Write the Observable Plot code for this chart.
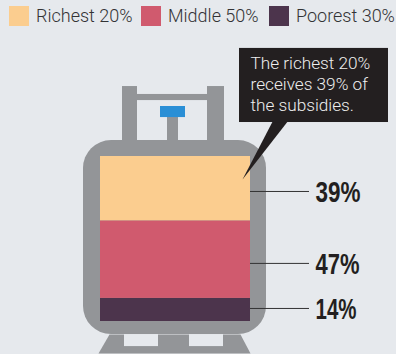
<!DOCTYPE html>
<html>
<head>
<meta charset="utf-8">
<script src="https://cdn.jsdelivr.net/npm/d3@7"></script>
<script src="https://cdn.jsdelivr.net/npm/@observablehq/plot@0.6"></script>
<style>
  html, body { margin: 0; padding: 0; background: #e6e9ed; width: 396px; height: 354px; overflow: hidden; }
  #legend { position: relative; height: 32px; font: 300 18px "Roboto", sans-serif; color: #333335; }
  #legend i { position: absolute; top: 6px; width: 20px; height: 20px; }
  #legend span { position: absolute; top: 6px; line-height: 20px; white-space: nowrap; }
  svg { display: block; }
</style>
</head>
<body>
<div id="legend"></div>
<div id="chart"></div>
<script>
// Income groups and their share of the subsidies, bottom of the tank first.
const groups = ["Poorest 30%", "Middle 50%", "Richest 20%"];
const shares = [14, 47, 39];
const labels = ["14%", "47%", "39%"];
const colors = ["#4c344c", "#d05a6e", "#fbcd8f"];
const calloutLines = ["The richest 20%", "receives 39% of", "the subsidies."];

// Layout, with y in percent of the tank's contents so that the cylinder
// sits on the same scale as the fill.
const fillX = [100, 250];
const labelLevels = [7.9, 35.2, 78.8];
const labelWidths = [41, 44, 45];
const leaderEnd = 309;
const labelX = 315;
const steel = "#939598";
const ink = "#231f20";

const steelParts = [
  {x1: 122, x2: 137, y1: 100, y2: 142.4},
  {x1: 207, x2: 224, y1: 100, y2: 142.4},
  {x1: 137, x2: 208, y1: 133.9, y2: 137.6},
  {x1: 167, x2: 178, y1: 100, y2: 124}
];
const tankBody = [{x1: 83, x2: 266, y1: -7.9, y2: 109.7}];
const valve = [{x1: 160, x2: 185, y1: 123.6, y2: 130.3}];
const footing = [[109, -7.9], [240, -7.9], [250, -19.4], [98, -19.4], [109, -7.9]];
const footHoles = [
  {x1: 124, x2: 158, y1: -15.2, y2: -7.9},
  {x1: 189, x2: 223, y1: -15.2, y2: -7.9}
];
const calloutBox = [{x1: 239, x2: 388, y1: 120.6, y2: 165.5}];
const calloutTail = [[272, 121], [287, 121], [242, 86.1], [272, 121]];
const calloutRows = [156.4, 143.4, 130.9];

const rows = groups.map((group, i) => ({group, share: shares[i], label: labels[i], level: labelLevels[i]}));

// Swatches and names above the drawing, richest first.
const legendX = [{swatch: 9, text: 36}, {swatch: 141, text: 168}, {swatch: 269, text: 296}];
const legend = d3.select("#legend");
[...groups].reverse().forEach((group, i) => {
  legend.append("i").style("left", legendX[i].swatch + "px").style("background", colors[2 - i]);
  legend.append("span").style("left", legendX[i].text + "px").text(group);
});

const chart = Plot.plot({
  width: 396,
  height: 322,
  margin: 0,
  style: {background: "transparent", overflow: "hidden"},
  x: {domain: [0, 396], range: [0, 396], axis: null},
  y: {domain: [0, 100], range: [289, 124], axis: null},
  color: {domain: groups, range: colors},
  marks: [
    Plot.line(footing, {x: "0", y: "1", fill: steel, stroke: null}),
    Plot.rect(footHoles, {x1: "x1", x2: "x2", y1: "y1", y2: "y2", fill: "#e6e9ed"}),
    Plot.rect(steelParts, {x1: "x1", x2: "x2", y1: "y1", y2: "y2", fill: steel}),
    Plot.rect(tankBody, {x1: "x1", x2: "x2", y1: "y1", y2: "y2", fill: steel, rx: 28, ry: 28}),
    Plot.rect(valve, {x1: "x1", x2: "x2", y1: "y1", y2: "y2", fill: "#2a8fd6"}),
    Plot.rectY(rows, Plot.stackY({
      x1: () => fillX[0], x2: () => fillX[1], y: "share", fill: "group", order: null
    })),
    Plot.ruleY(rows, {y: "level", x1: () => fillX[1], x2: () => leaderEnd, stroke: "#333", strokeWidth: 1}),
    Plot.text(rows, {
      x: () => labelX, y: "level", dy: 1, text: "label", textAnchor: "start", className: "share-label",
      fontFamily: "Liberation Sans", fontWeight: 700, fontSize: 30, fill: ink
    }),
    Plot.line(calloutTail, {x: "0", y: "1", fill: ink, stroke: null}),
    Plot.rect(calloutBox, {x1: "x1", x2: "x2", y1: "y1", y2: "y2", fill: ink}),
    Plot.text(calloutLines, {
      x: () => 250, y: (d, i) => calloutRows[i], text: d => d, textAnchor: "start",
      fontFamily: "Roboto", fontWeight: 300, fontSize: 17.2, fill: "#eeeeee"
    })
  ]
});

// The share figures are set condensed.
chart.querySelectorAll(".share-label text").forEach((node, i) => {
  node.setAttribute("textLength", labelWidths[i]);
  node.setAttribute("lengthAdjust", "spacingAndGlyphs");
});
document.getElementById("chart").append(chart);
</script>
</body>
</html>
